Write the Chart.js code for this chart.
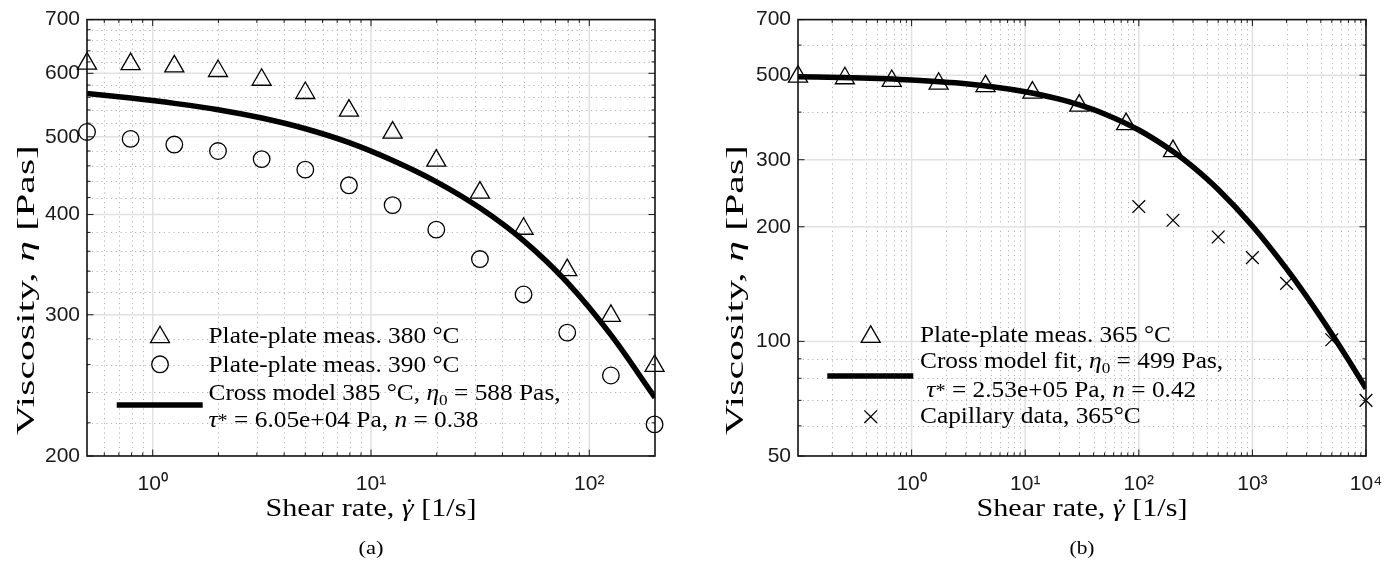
<!DOCTYPE html>
<html><head><meta charset="utf-8">
<script src="https://cdn.jsdelivr.net/npm/chart.js@4.4.0/dist/chart.umd.min.js"></script>
<style>
html,body{margin:0;padding:0;background:#fff;}
#wrap{position:relative;width:1399px;height:566px;overflow:hidden;background:#fff;}
canvas{position:absolute;top:0;}
</style></head><body>
<div id="wrap">
<canvas id="cA" width="700" height="566" style="left:0px"></canvas>
<canvas id="cB" width="699" height="566" style="left:700px"></canvas>
</div>
<script>
// ---------------- DATA: panel (a) ----------------
const shearA  = [0.5, 0.792, 1.256, 1.991, 3.155, 5.0, 7.924, 12.56, 19.91, 31.55, 50.0, 79.24, 125.6, 199.1];
const eta380  = [617, 616, 612, 604, 589, 567, 539, 506, 467, 426, 384, 341, 299, 259];
const eta390  = [507, 497, 489, 480, 469, 455, 435, 411, 383, 352, 318, 285, 252, 219];
const fitShearA = [0.5, 0.794, 1.259, 1.995, 3.162, 5.012, 7.943, 12.59, 19.95, 31.62, 50.12, 79.43, 125.9, 200];
const fitEtaA   = [566.2, 558.8, 550.4, 540.5, 527.7, 511.7, 491.7, 467.1, 439.4, 407.5, 370.9, 329.0, 282.9, 236.5];
const xTicksA  = [1, 10, 100];
const xLabelsA = ['10\u2070', '10\u00B9', '10\u00B2'];
const yTicksA  = [200, 300, 400, 500, 600, 700];
const yLabelsA = ['200', '300', '400', '500', '600', '700'];
const xMinorA  = [0.6, 0.7, 0.8, 0.9, 2, 3, 4, 5, 6, 7, 8, 9, 20, 30, 40, 50, 60, 70, 80, 90];
const yMinorA  = [220, 240, 260, 280, 320, 340, 360, 380, 420, 440, 460, 480, 520, 540, 560, 580, 620, 640, 660, 680];

// ---------------- DATA: panel (b) ----------------
const shearB   = [0.1, 0.2586, 0.6688, 1.7295, 4.472, 11.565, 29.91, 77.35, 200];
const eta365   = [496, 491, 483, 475, 468, 450, 416, 372, 316];
const fitShearB = [0.1, 0.3, 1, 3, 10, 20, 30, 50, 100, 200, 300, 500, 1000, 2000, 3000, 5000, 7000, 10000];
const fitEtaB   = [495.5, 492.4, 485.9, 474.8, 452.6, 432.7, 417.9, 395.7, 359.0, 315.2, 287.2, 250.5, 201.0, 155.1, 131.2, 104.6, 89.4, 75.2];
const capShear = [100, 200, 500, 1000, 2000, 5000, 10000];
const capEta   = [226, 208, 188, 166, 142, 101, 70];
const xTicksB  = [1, 10, 100, 1000, 10000];
const xLabelsB = ['10\u2070', '10\u00B9', '10\u00B2', '10\u00B3', '10\u2074'];
const yTicksB  = [50, 100, 200, 300, 500, 700];
const yLabelsB = ['50', '100', '200', '300', '500', '700'];
const xMinorB  = [0.2,0.3,0.4,0.5,0.6,0.7,0.8,0.9, 2,3,4,5,6,7,8,9, 20,30,40,50,60,70,80,90, 200,300,400,500,600,700,800,900, 2000,3000,4000,5000,6000,7000,8000,9000];
const yMinorB  = [60, 70, 80, 90, 400, 600];

// ---------------- TEXT ----------------
const yTitleSegs = [{t:'Viscosity, '},{t:'\u03B7',it:1},{t:' [Pas]'}];
const xTitleSegs = [{t:'Shear rate, '},{t:'\u03B3',it:1,dot:1},{t:' [1/s]'}];
const legendRowsA = [
  [{t:'Plate-plate meas. 380 \u00B0C'}],
  [{t:'Plate-plate meas. 390 \u00B0C'}],
  [{t:'Cross model 385 \u00B0C, '},{t:'\u03B7',it:1},{t:'0',sub:1},{t:' = 588 Pas,'}],
  [{t:'\u03C4',it:1},{t:'*',small:1},{t:' = 6.05e+04 Pa, '},{t:'n',it:1},{t:' = 0.38'}]
];
const legendRowsB = [
  [{t:'Plate-plate meas. 365 \u00B0C'}],
  [{t:'Cross model fit, '},{t:'\u03B7',it:1},{t:'0',sub:1},{t:' = 499 Pas,'}],
  [{t:' '},{t:'\u03C4',it:1},{t:'*',small:1},{t:' = 2.53e+05 Pa, '},{t:'n',it:1},{t:' = 0.42'}],
  [{t:'Capillary data, 365\u00B0C'}]
];

const SANS = "'Liberation Sans', Arial, Helvetica, sans-serif";
const SERIF = "'Liberation Serif', 'Times New Roman', serif";

function segFont(s, size) {
  let fs = size;
  if (s.sub || s.sup) fs = size * 0.68;
  if (s.small) fs = size * 0.8;
  return (s.it ? 'italic ' : '') + fs.toFixed(2) + 'px ' + SERIF;
}
function richWidth(ctx, segs, size) {
  let w = 0;
  for (const s of segs) { ctx.font = segFont(s, size); w += ctx.measureText(s.t).width; }
  return w;
}
function drawRich(ctx, segs, size) {
  let cx = 0;
  for (const s of segs) {
    ctx.font = segFont(s, size);
    const dy = s.sub ? size * 0.22 : (s.sup ? -size * 0.36 : 0);
    ctx.fillText(s.t, cx, dy);
    const w = ctx.measureText(s.t).width;
    if (s.dot) {
      ctx.font = size + 'px ' + SERIF;
      const dw = ctx.measureText('\u02D9').width;
      ctx.fillText('\u02D9', cx + w / 2 - dw / 2 + size * 0.05, -size * 0.02);
      ctx.font = segFont(s, size);
    }
    cx += w;
  }
}
function drawText(ctx, segs, size, x, y, o) {
  const w = richWidth(ctx, segs, size);
  const sx = o.targetW ? o.targetW / w : (o.stretch || 1);
  ctx.save();
  ctx.translate(x, y);
  if (o.rot) ctx.rotate(o.rot);
  ctx.scale(sx, 1);
  if (o.align === 'center') ctx.translate(-w / 2, 0);
  drawRich(ctx, segs, size);
  ctx.restore();
  return sx;
}

function framePlugin(c) {
  return {
    id: 'frameGrid',
    beforeDatasetsDraw(chart) {
      const {ctx, chartArea: a, scales: {x, y}} = chart;
      ctx.save();
      ctx.beginPath(); ctx.rect(a.left, a.top, a.right - a.left, a.bottom - a.top); ctx.clip();
      ctx.strokeStyle = '#b4b4b4'; ctx.lineWidth = 1; ctx.setLineDash([1.2, 3.6]);
      ctx.beginPath();
      for (const v of c.xMinor) { const p = Math.round(x.getPixelForValue(v)) + 0.5; ctx.moveTo(p, a.top); ctx.lineTo(p, a.bottom); }
      for (const v of c.yMinor) { const p = Math.round(y.getPixelForValue(v)) + 0.5; ctx.moveTo(a.left, p); ctx.lineTo(a.right, p); }
      ctx.stroke();
      ctx.setLineDash([]);
      ctx.strokeStyle = '#e1e1e1'; ctx.lineWidth = 1.5;
      ctx.beginPath();
      for (const v of c.xTicks) { const p = x.getPixelForValue(v); ctx.moveTo(p, a.top); ctx.lineTo(p, a.bottom); }
      for (const v of c.yTicks) { const p = y.getPixelForValue(v); ctx.moveTo(a.left, p); ctx.lineTo(a.right, p); }
      ctx.stroke();
      ctx.restore();
    },
    afterDatasetsDraw(chart) {
      const {ctx, chartArea: a, scales: {x, y}} = chart;
      ctx.save();
      ctx.strokeStyle = '#1a1a1a'; ctx.lineWidth = 1;
      ctx.beginPath();
      const tk = (vals, len) => {
        for (const v of vals) {
          const p = x.getPixelForValue(v);
          ctx.moveTo(p, a.bottom); ctx.lineTo(p, a.bottom - len);
          ctx.moveTo(p, a.top); ctx.lineTo(p, a.top + len);
        }
      };
      const tky = (vals, len) => {
        for (const v of vals) {
          const p = y.getPixelForValue(v);
          ctx.moveTo(a.left, p); ctx.lineTo(a.left + len, p);
          ctx.moveTo(a.right, p); ctx.lineTo(a.right - len, p);
        }
      };
      tk(c.xTicks, 6.5); tk(c.xMinor, 3.5); tky(c.yTicks, 6.5); tky(c.yMinor, 3.5);
      ctx.stroke();
      ctx.lineWidth = 1.6; ctx.strokeStyle = '#111';
      ctx.strokeRect(a.left, a.top, a.right - a.left, a.bottom - a.top);
      ctx.restore();
    }
  };
}

function textPlugin(c) {
  return {
    id: 'richText',
    afterDraw(chart) {
      const {ctx, chartArea: a} = chart;
      ctx.save();
      ctx.fillStyle = '#000'; ctx.textBaseline = 'alphabetic'; ctx.textAlign = 'left';
      const cxm = (a.left + a.right) / 2;
      drawText(ctx, xTitleSegs, 25, cxm, 516, {align: 'center', targetW: 211});
      drawText(ctx, yTitleSegs, 26, c.yTitleX, 290, {align: 'center', targetW: 290, rot: -Math.PI / 2});
      drawText(ctx, [{t: c.caption}], 19, cxm, 554, {align: 'center', targetW: 25});
      const L = c.legend;
      const sx = richWidth(ctx, L.rows[0], 23);
      const stretch = 251 / sx;
      L.rows.forEach((r, i) => drawText(ctx, r, 23, L.textX, L.base[i], {stretch}));
      ctx.strokeStyle = '#000'; ctx.lineWidth = 1.3;
      for (const m of L.marks) {
        ctx.beginPath();
        if (m.type === 'triangle') {
          const r = 11;
          ctx.moveTo(m.x, m.y - r);
          ctx.lineTo(m.x + r * Math.sin(2 * Math.PI / 3), m.y - r * Math.cos(2 * Math.PI / 3));
          ctx.lineTo(m.x + r * Math.sin(4 * Math.PI / 3), m.y - r * Math.cos(4 * Math.PI / 3));
          ctx.closePath(); ctx.stroke();
        } else if (m.type === 'circle') {
          ctx.arc(m.x, m.y, 8.3, 0, Math.PI * 2); ctx.stroke();
        } else if (m.type === 'cross') {
          const d = 9 * Math.SQRT1_2;
          ctx.moveTo(m.x - d, m.y - d); ctx.lineTo(m.x + d, m.y + d);
          ctx.moveTo(m.x + d, m.y - d); ctx.lineTo(m.x - d, m.y + d); ctx.stroke();
        } else if (m.type === 'line') {
          ctx.lineWidth = 5.5; ctx.moveTo(m.x0, m.y); ctx.lineTo(m.x1, m.y); ctx.stroke(); ctx.lineWidth = 1.3;
        }
      }
      ctx.restore();
    }
  };
}

function pts(xs, ys) { return xs.map((x, i) => ({x: x, y: ys[i]})); }

function build(id, c) {
  return new Chart(document.getElementById(id), {
    type: 'scatter',
    data: {datasets: c.datasets},
    options: {
      responsive: false, animation: false, devicePixelRatio: 1,
      layout: {padding: {top: 16, right: c.padRight, bottom: 0, left: 0}},
      plugins: {legend: {display: false}, tooltip: {enabled: false}},
      elements: {point: {hoverRadius: 0}},
      scales: {
        x: {
          type: 'logarithmic', min: c.xMin, max: c.xMax, position: 'bottom',
          grid: {display: false, drawTicks: false}, border: {display: false},
          ticks: {autoSkip: false, maxRotation: 0, minRotation: 0, padding: 16, color: '#1a1a1a',
                  font: {family: SANS, size: 21}, callback: (v, i) => c.xLabels[i]},
          afterBuildTicks: (s) => { s.ticks = c.xTicks.map(v => ({value: v})); },
          afterFit: (s) => { s.height = 110; }
        },
        y: {
          type: 'logarithmic', min: c.yMin, max: c.yMax, position: 'left',
          grid: {display: false, drawTicks: false}, border: {display: false},
          ticks: {autoSkip: false, padding: 7, color: '#1a1a1a',
                  font: {family: SANS, size: 21}, callback: (v, i) => c.yLabels[i]},
          afterBuildTicks: (s) => { s.ticks = c.yTicks.map(v => ({value: v})); },
          afterFit: (s) => { s.width = c.yAxisW; }
        }
      }
    },
    plugins: [framePlugin(c), textPlugin(c)]
  });
}

const mk = (o) => Object.assign({borderColor: '#000', backgroundColor: 'rgba(0,0,0,0)', showLine: false, clip: false, pointBorderWidth: 1.3}, o);

build('cA', {
  xMin: 0.5, xMax: 200, yMin: 200, yMax: 700, yAxisW: 87, padRight: 45,
  xTicks: xTicksA, xLabels: xLabelsA, yTicks: yTicksA, yLabels: yLabelsA, xMinor: xMinorA, yMinor: yMinorA,
  yTitleX: 33.5, caption: '(a)',
  datasets: [
    {label: 'Cross model 385 \u00B0C', data: pts(fitShearA, fitEtaA), showLine: true, pointRadius: 0, borderWidth: 5.5,
     borderColor: '#000', backgroundColor: '#000', cubicInterpolationMode: 'monotone', fill: false},
    mk({label: 'Plate-plate meas. 380 \u00B0C', data: pts(shearA, eta380), pointStyle: 'triangle', pointRadius: 11}),
    mk({label: 'Plate-plate meas. 390 \u00B0C', data: pts(shearA, eta390), pointStyle: 'circle', pointRadius: 8.3})
  ],
  legend: {
    rows: legendRowsA, textX: 208.5, base: [343.3, 371.7, 400, 426.7],
    marks: [{type: 'triangle', x: 160, y: 337.2}, {type: 'circle', x: 160, y: 364.3}, {type: 'line', x0: 116.7, x1: 202.7, y: 405}]
  }
});

build('cB', {
  xMin: 0.1, xMax: 10000, yMin: 50, yMax: 700, yAxisW: 98, padRight: 33,
  xTicks: xTicksB, xLabels: xLabelsB, yTicks: yTicksB, yLabels: yLabelsB, xMinor: xMinorB, yMinor: yMinorB,
  yTitleX: 42.5, caption: '(b)',
  datasets: [
    {label: 'Cross model fit', data: pts(fitShearB, fitEtaB), showLine: true, pointRadius: 0, borderWidth: 5.5,
     borderColor: '#000', backgroundColor: '#000', cubicInterpolationMode: 'monotone', fill: false},
    mk({label: 'Plate-plate meas. 365 \u00B0C', data: pts(shearB, eta365), pointStyle: 'triangle', pointRadius: 11}),
    mk({label: 'Capillary data, 365\u00B0C', data: pts(capShear, capEta), pointStyle: 'crossRot', pointRadius: 9})
  ],
  legend: {
    rows: legendRowsB, textX: 220, base: [342.3, 368.3, 396.7, 423.3],
    marks: [{type: 'triangle', x: 170.7, y: 336.8}, {type: 'line', x0: 127.3, x1: 213.3, y: 376}, {type: 'cross', x: 170.7, y: 416.7}]
  }
});
</script>
</body></html>
